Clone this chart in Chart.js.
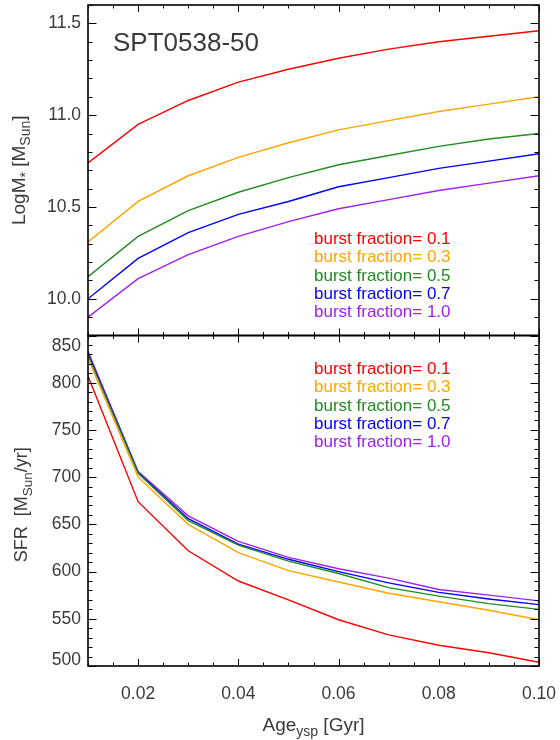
<!DOCTYPE html>
<html><head><meta charset="utf-8">
<script src="https://cdn.jsdelivr.net/npm/chart.js@4.4.1/dist/chart.umd.min.js"></script>
<style>html,body{margin:0;padding:0;background:#fff;}#wrap{width:560px;height:740px;position:relative;}</style>
</head><body><div id="wrap"><canvas id="c" width="560" height="740"></canvas></div>
<script>
// ---- data ----
const ages = [0.01, 0.02, 0.03, 0.04, 0.05, 0.06, 0.07, 0.08, 0.09, 0.10];
const seriesNames = ['burst fraction= 0.1', 'burst fraction= 0.3', 'burst fraction= 0.5', 'burst fraction= 0.7', 'burst fraction= 1.0'];
const logMass01 = [10.74, 10.95, 11.08, 11.18, 11.25, 11.31, 11.36, 11.40, 11.43, 11.46];
const logMass03 = [10.31, 10.53, 10.67, 10.77, 10.85, 10.92, 10.97, 11.02, 11.06, 11.10];
const logMass05 = [10.12, 10.34, 10.48, 10.58, 10.66, 10.73, 10.78, 10.83, 10.87, 10.90];
const logMass07 = [10.00, 10.22, 10.36, 10.46, 10.53, 10.61, 10.66, 10.71, 10.75, 10.79];
const logMass10 = [9.90, 10.11, 10.24, 10.34, 10.42, 10.49, 10.54, 10.59, 10.63, 10.67];
const sfr01 = [807, 674, 622, 590, 570, 549, 533, 522, 514, 504];
const sfr03 = [826, 700, 650, 620, 601, 589, 577, 568, 559, 549];
const sfr05 = [829, 704, 654, 628, 611, 598, 583, 574, 566, 560];
const sfr07 = [831, 705, 656, 629, 613, 600, 588, 578, 571, 565];
const sfr10 = [833, 706, 659, 632, 615, 603, 593, 581, 575, 569];
const xTickValues = [0.02, 0.04, 0.06, 0.08, 0.10];
const xTickLabels = ['0.02', '0.04', '0.06', '0.08', '0.10'];
const massTickValues = [10.0, 10.5, 11.0, 11.5];
const massTickLabels = ['10.0', '10.5', '11.0', '11.5'];
const sfrTickValues = [500, 550, 600, 650, 700, 750, 800, 850];
const sfrTickLabels = ['500', '550', '600', '650', '700', '750', '800', '850'];
const panelTitle = 'SPT0538-50';

// ---- style ----
const colors = ['#ff0000', '#ffa500', '#228b22', '#0000ff', '#a020f0'];
const FONT = '"Liberation Sans", Arial, Helvetica, sans-serif';
const TEXT = '#3a3a3a';
const massSeries = [logMass01, logMass03, logMass05, logMass07, logMass10];
const sfrSeries = [sfr01, sfr03, sfr05, sfr07, sfr10];

const datasets = [];
massSeries.forEach((arr, i) => datasets.push({
  label: seriesNames[i], yAxisID: 'yTop', borderColor: colors[i], borderWidth: 1.4,
  pointRadius: 0, tension: 0, fill: false,
  data: ages.map((a, j) => ({x: a, y: arr[j]}))
}));
sfrSeries.forEach((arr, i) => datasets.push({
  label: seriesNames[i], yAxisID: 'yBot', borderColor: colors[i], borderWidth: 1.4,
  pointRadius: 0, tension: 0, fill: false,
  data: ages.map((a, j) => ({x: a, y: arr[j]}))
}));

function font(size) { return size + 'px ' + FONT; }
function richWidth(ctx, parts, size, sub) {
  let w = 0;
  for (const p of parts) { ctx.font = font(p.s ? sub : size); w += ctx.measureText(p.t).width; }
  return w;
}
function drawRich(ctx, parts, x, y, size, sub, drop) {
  let cx = x;
  for (const p of parts) {
    ctx.font = font(p.s ? sub : size);
    ctx.fillText(p.t, cx, y + (p.s ? drop : 0));
    cx += ctx.measureText(p.t).width;
  }
}

const decor = {
  id: 'decor',
  afterDatasetsDraw(chart) {
    const ctx = chart.ctx;
    const xs = chart.scales.x;
    const L = chart.chartArea.left, R = chart.chartArea.right;
    const panels = [
      {s: chart.scales.yTop, minor: 0.1, major: 0.5},
      {s: chart.scales.yBot, minor: 10, major: 50}
    ];
    ctx.save();
    ctx.strokeStyle = '#000';
    for (const p of panels) {
      const ys = p.s, T = ys.top, B = ys.bottom;
      ctx.lineWidth = 1;
      ctx.beginPath();
      const nx = Math.round((xs.max - xs.min) / 0.005);
      for (let i = 0; i <= nx; i++) {
        const v = xs.min + i * 0.005;
        const isMaj = Math.abs(v / 0.02 - Math.round(v / 0.02)) < 1e-6;
        const len = isMaj ? 7 : 3.5;
        const px = Math.round(xs.getPixelForValue(v)) + 0.5;
        ctx.moveTo(px, T); ctx.lineTo(px, T + len);
        ctx.moveTo(px, B); ctx.lineTo(px, B - len);
      }
      const ny = Math.round((ys.max - ys.min) / p.minor);
      for (let i = 0; i <= ny; i++) {
        const v = ys.min + i * p.minor;
        const isMaj = Math.abs(v / p.major - Math.round(v / p.major)) < 1e-6;
        const len = isMaj ? 8.5 : 4.5;
        const py = Math.round(ys.getPixelForValue(v)) + 0.5;
        ctx.moveTo(L, py); ctx.lineTo(L + len, py);
        ctx.moveTo(R, py); ctx.lineTo(R - len, py);
      }
      ctx.stroke();
      ctx.lineWidth = 1.6;
      ctx.strokeRect(L, T, R - L, B - T);
    }
    ctx.restore();
  },
  afterDraw(chart) {
    const ctx = chart.ctx;
    const yTop = chart.scales.yTop, yBot = chart.scales.yBot;
    const L = chart.chartArea.left, R = chart.chartArea.right;
    ctx.save();
    ctx.fillStyle = TEXT;
    ctx.font = font(17.5);
    ctx.textAlign = 'right';
    ctx.textBaseline = 'middle';
    ctx.fillText(sfrTickLabels[sfrTickLabels.length - 1], L - 7, yBot.getPixelForValue(sfrTickValues[sfrTickValues.length - 1]) + 10.5);
    ctx.fillText(sfrTickLabels[0], L - 7, yBot.getPixelForValue(sfrTickValues[0]) - 5.5);
    ctx.textAlign = 'left';
    ctx.textBaseline = 'alphabetic';
    ctx.font = font(26);
    ctx.fillText(panelTitle, 113, 50.5);
    ctx.font = font(17);
    seriesNames.forEach((n, i) => {
      ctx.fillStyle = colors[i];
      ctx.fillText(n, 314, 244 + i * 18.33);
      ctx.fillText(n, 314, 374 + i * 18.33);
    });
    ctx.fillStyle = TEXT;
    const xParts = [{t: 'Age'}, {t: 'ysp', s: 1}, {t: ' [Gyr]'}];
    const xw = richWidth(ctx, xParts, 19, 14);
    drawRich(ctx, xParts, (L + R) / 2 - xw / 2, 731, 19, 14, 4.5);
    const t1 = [{t: 'LogM'}, {t: '*', s: 1}, {t: ' [M'}, {t: 'Sun', s: 1}, {t: ']'}];
    const w1 = richWidth(ctx, t1, 19, 14);
    ctx.save();
    ctx.translate(25, (yTop.top + yTop.bottom) / 2);
    ctx.rotate(-Math.PI / 2);
    drawRich(ctx, t1, -w1 / 2, 0, 19, 14, 4.5);
    ctx.restore();
    const t2 = [{t: 'SFR  [M'}, {t: 'Sun', s: 1}, {t: '/yr]'}];
    const w2 = richWidth(ctx, t2, 18, 13.5);
    ctx.save();
    ctx.translate(27, (yBot.top + yBot.bottom) / 2 + 4);
    ctx.rotate(-Math.PI / 2);
    drawRich(ctx, t2, -w2 / 2, 0, 18, 13.5, 4.5);
    ctx.restore();
    ctx.restore();
  }
};

const tickFont = {family: FONT, size: 17.5};
const fitY = s => { s.width = 88; s.paddingTop = 0; s.paddingBottom = 0; };
new Chart(document.getElementById('c'), {
  type: 'line',
  data: {datasets},
  plugins: [decor],
  options: {
    responsive: false, animation: false, devicePixelRatio: 1,
    layout: {padding: {left: 0, right: 21, top: 5, bottom: 0}},
    plugins: {legend: {display: false}, tooltip: {enabled: false}, title: {display: false}},
    scales: {
      x: {
        type: 'linear', position: 'bottom', min: 0.01, max: 0.10,
        grid: {display: false, drawTicks: false}, border: {display: false},
        afterBuildTicks: s => { s.ticks = xTickValues.map(v => ({value: v})); },
        afterFit: s => { s.height = 74; s.paddingLeft = 0; s.paddingRight = 0; },
        ticks: {font: tickFont, color: TEXT, padding: 18, maxRotation: 0, autoSkip: false,
          callback: (v, i) => xTickLabels[i]}
      },
      yBot: {
        axis: 'y', type: 'linear', position: 'left', stack: 'panels', stackWeight: 1,
        min: 500, max: 850,
        grid: {display: false, drawTicks: false}, border: {display: false},
        afterBuildTicks: s => { s.ticks = sfrTickValues.map(v => ({value: v})); },
        afterFit: fitY,
        ticks: {font: tickFont, padding: 7, autoSkip: false,
          color: c => (c.index === 0 || c.index === sfrTickValues.length - 1) ? 'rgba(0,0,0,0)' : TEXT,
          callback: (v, i) => sfrTickLabels[i]}
      },
      yTop: {
        axis: 'y', type: 'linear', position: 'left', stack: 'panels', stackWeight: 1,
        min: 9.8, max: 11.6,
        grid: {display: false, drawTicks: false}, border: {display: false},
        afterBuildTicks: s => { s.ticks = massTickValues.map(v => ({value: v})); },
        afterFit: fitY,
        ticks: {font: tickFont, color: TEXT, padding: 7, autoSkip: false,
          callback: (v, i) => massTickLabels[i]}
      }
    }
  }
});
</script></body></html>
